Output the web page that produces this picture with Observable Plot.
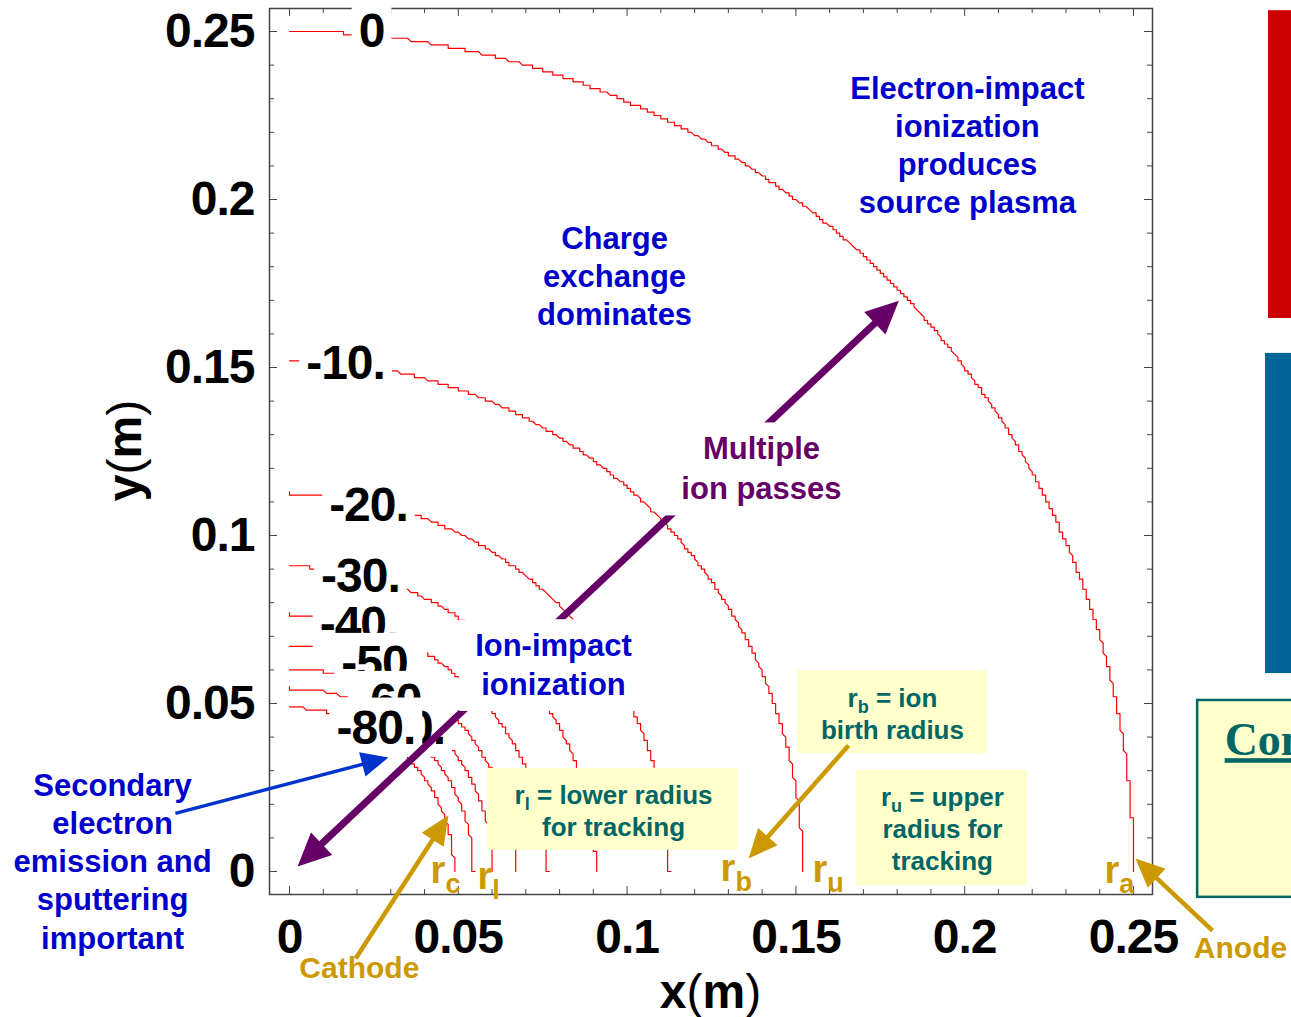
<!DOCTYPE html>
<html>
<head>
<meta charset="utf-8">
<script src="https://cdn.jsdelivr.net/npm/d3@7"></script>
<script src="https://cdn.jsdelivr.net/npm/@observablehq/plot@0.6"></script>
<style>
  html, body { margin: 0; padding: 0; background: #fff; }
  #chart svg { display: block; }
  g[aria-description="clabel"] text,
  g[aria-label="x-axis tick label"] text,
  g[aria-label="y-axis tick label"] text { letter-spacing: -1px; }
</style>
</head>
<body>
<div id="chart"></div>
<script>
// ---------------- data ----------------
// axis ticks (metres)
const axisTickValues = [0, 0.05, 0.1, 0.15, 0.2, 0.25];
const majorTicks = [0, 0.05, 0.1, 0.15, 0.2, 0.25];
const minorTicks = [0.01, 0.02, 0.03, 0.04, 0.06, 0.07, 0.08, 0.09, 0.11, 0.12, 0.13, 0.14,
                    0.16, 0.17, 0.18, 0.19, 0.21, 0.22, 0.23, 0.24];
const xAxisTitle = "x(m)";
const yAxisTitle = "y(m)";
const axisTitleX = [0.1247, -0.0486];
const axisTitleY = [-0.0360, 0.1253];

// potential contours (V) and their radii (m)
const contourLevels = [0, -10, -20, -30, -40, -50, -60, -70, -80];
const contourRadii  = [0.250, 0.152, 0.1125, 0.0907, 0.0765, 0.0670, 0.0603, 0.0545, 0.0487];
const contourLabelText = ["0", "-10.", "-20.", "-30.", "-40.", "-50.", "-60.", "-70.", "-80."];
const contourLabelX = [0.0243, 0.0166, 0.0234, 0.0210, 0.0206, 0.0270, 0.0311, 0.0344, 0.0256];
const contourLabelY = [0.2500, 0.1512, 0.1089, 0.0878, 0.0736, 0.0619, 0.0506, 0.0426, 0.0426];

// blue annotations
const blueNoteText = ["Electron-impact\nionization\nproduces\nsource plasma",
                      "Charge\nexchange\ndominates",
                      "Secondary\nelectron\nemission and\nsputtering\nimportant"];
const blueNoteX = [0.2008, 0.0963, -0.0524];
const blueNoteY = [0.2166, 0.1775, 0.0034];
const ionNoteText = "Ion-impact\nionization";
const ionNoteX = 0.0782, ionNoteY = 0.0620;
const passNoteText = "Multiple\nion passes";
const passNoteX = 0.1398, passNoteY = 0.1205;

// yellow definition boxes
const defText = ["r_l = lower radius\nfor tracking", "r_b = ion\nbirth radius", "r_u = upper\nradius for\ntracking"];
const defTextX = [0.0960, 0.1786, 0.1934];
const defTextY = [0.0183, 0.0473, 0.0129];
const defBoxX1 = [0.0587, 0.1505, 0.1680];
const defBoxX2 = [0.1330, 0.2068, 0.2186];
const defBoxY1 = [0.0063, 0.0351, -0.0042];
const defBoxY2 = [0.0307, 0.0598, 0.0301];

// gold radius markers
const radiusLabel = ["r_c", "r_l", "r_b", "r_u", "r_a"];
const radiusLabelX = [0.0418, 0.0557, 0.1277, 0.1549, 0.2414];
const radiusLabelY = [0.0003, -0.0015, 0.0009, 0.0006, 0.0003];
const electrodeText = ["Cathode", "Anode"];
const electrodeX = [0.0207, 0.2817];
const electrodeY = [-0.0289, -0.0229];

// arrows: tail (x1,y1) -> tip (x2,y2)
const goldArrowX1 = [0.0196, 0.1656, 0.2734];
const goldArrowY1 = [-0.0259, 0.0375, -0.0176];
const goldArrowX2 = [0.0471, 0.1360, 0.2506];
const goldArrowY2 = [0.0167, 0.0039, 0.0039];
const blueArrow = {x1: -0.0338, y1: 0.0173, x2: 0.0293, y2: 0.0339};
const passArrowX = [0.0024, 0.1805];   // double-headed: both ends are tips
const passArrowY = [0.0015, 0.1699];

// neighbouring slide elements at the right edge
const sideRectX1 = [0.2900, 0.2891];
const sideRectX2 = [0.3000, 0.3000];
const sideRectY1 = [0.1646, 0.0589];
const sideRectY2 = [0.2562, 0.1542];
const sideRectFill = ["#CC0000", "#006699"];
const sideBox = {x1: 0.2690, x2: 0.3100, y1: -0.0077, y2: 0.0509};
const sideBoxText = "Con", sideBoxTextX = 0.2770, sideBoxTextY = 0.0390;

// ---------------- layout ----------------
const W = 1291, H = 1017;
const mL = 269, mR = 139, mT = 8, mB = 123;
const innerW = W - mL - mR, innerH = H - mT - mB;
const xDomain = [-0.00592, 0.25563], yDomain = [-0.00685, 0.25685];
const kx = innerW / (xDomain[1] - xDomain[0]);
const ky = innerH / (yDomain[1] - yDomain[0]);

const sans = "'Liberation Sans', Arial, Helvetica, sans-serif";
const RED = "#FF0000", BLUE = "#0000CC", ABLUE = "#0033CC", PURPLE = "#660066",
      GOLD = "#CC9900", TEAL = "#006666", YELLOW = "#FFFFCC", FRAME = "#444";

// contour arcs (quarter circles of the measured radii, rendered on the solver grid)
const GRID = 0.001;
const snap = v => Math.round(v / GRID) * GRID;
const arcs = contourRadii.flatMap((r, i) => {
  const n = Math.ceil(r * 4000), pts = [];
  for (let k = 0; k <= n; k++) {
    const a = (Math.PI / 2) * k / n;
    pts.push({level: contourLevels[i], x: snap(r * Math.cos(a)), y: snap(r * Math.sin(a))});
  }
  return pts;
});

const clabels = contourLabelText.map((t, i) => ({t, x: contourLabelX[i], y: contourLabelY[i]}));
const blueNotes = blueNoteText.map((t, i) => ({t, x: blueNoteX[i], y: blueNoteY[i]}));
const defs = defText.map((t, i) => ({t, x: defTextX[i], y: defTextY[i]}));
const defBoxes = defBoxX1.map((_, i) => ({x1: defBoxX1[i], x2: defBoxX2[i], y1: defBoxY1[i], y2: defBoxY2[i]}));
const rLabels = radiusLabel.map((t, i) => ({t, x: radiusLabelX[i], y: radiusLabelY[i]}));
const electrodes = electrodeText.map((t, i) => ({t, x: electrodeX[i], y: electrodeY[i]}));
const goldArrows = goldArrowX1.map((_, i) => ({x1: goldArrowX1[i], y1: goldArrowY1[i], x2: goldArrowX2[i], y2: goldArrowY2[i]}));
const passArrow = [{x1: passArrowX[0], y1: passArrowY[0], x2: passArrowX[1], y2: passArrowY[1]}];
const sideRects = sideRectX1.map((_, i) => ({x1: sideRectX1[i], x2: sideRectX2[i], y1: sideRectY1[i], y2: sideRectY2[i], fill: sideRectFill[i]}));
const axisTitles = [{t: xAxisTitle, x: axisTitleX[0], y: axisTitleY[0], rot: 0},
                    {t: yAxisTitle, x: axisTitleX[1], y: axisTitleY[1], rot: -90}];

// arrowheads: filled triangles pointing along the arrow
const headSymbol = (L, Wd) => ({draw(ctx) { ctx.moveTo(0, 0); ctx.lineTo(Wd / 2, L); ctx.lineTo(-Wd / 2, L); ctx.closePath(); }});
const angle = (a) => Math.atan2(kx * (a.x2 - a.x1), ky * (a.y2 - a.y1)) * 180 / Math.PI;
const tipsOf = (arr) => arr.map(a => ({x: a.x2, y: a.y2, rot: angle(a)}));
const passTips = [
  {x: passArrowX[1], y: passArrowY[1], rot: angle(passArrow[0])},
  {x: passArrowX[0], y: passArrowY[0], rot: angle({x1: passArrowX[1], y1: passArrowY[1], x2: passArrowX[0], y2: passArrowY[0]})}
];

const chart = Plot.plot({
  width: W, height: H,
  marginLeft: mL, marginRight: mR, marginTop: mT, marginBottom: mB,
  x: {domain: xDomain},
  y: {domain: yDomain},
  style: {fontFamily: sans, background: "white", overflow: "visible"},
  marks: [
    // right-edge neighbour elements
    Plot.rect(sideRects, {x1: "x1", x2: "x2", y1: "y1", y2: "y2", fill: "fill"}),
    Plot.rect([sideBox], {x1: "x1", x2: "x2", y1: "y1", y2: "y2", fill: YELLOW, stroke: TEAL, strokeWidth: 2.5}),
    Plot.text([sideBoxText], {x: () => sideBoxTextX, y: () => sideBoxTextY, text: d => d, textAnchor: "start",
      fontFamily: "'Liberation Serif', 'Times New Roman', serif", fontWeight: "bold", fontSize: 46, fill: TEAL, ariaDescription: "con"}),

    // frame and inward ticks
    Plot.frame({stroke: FRAME, strokeWidth: 1.5}),
    Plot.tickX(minorTicks, {x: d => d, stroke: FRAME, insetTop: innerH - 5}),
    Plot.tickX(majorTicks, {x: d => d, stroke: FRAME, insetTop: innerH - 8}),
    Plot.tickX(minorTicks, {x: d => d, stroke: FRAME, insetBottom: innerH - 5}),
    Plot.tickX(majorTicks, {x: d => d, stroke: FRAME, insetBottom: innerH - 8}),
    Plot.tickY(minorTicks, {y: d => d, stroke: FRAME, insetRight: innerW - 5}),
    Plot.tickY(majorTicks, {y: d => d, stroke: FRAME, insetRight: innerW - 8}),
    Plot.tickY(minorTicks, {y: d => d, stroke: FRAME, insetLeft: innerW - 5}),
    Plot.tickY(majorTicks, {y: d => d, stroke: FRAME, insetLeft: innerW - 8}),
    Plot.axisX({ticks: axisTickValues, tickSize: 0, tickPadding: 24, tickFormat: d => String(d),
      fontSize: 48, fontWeight: "bold", fontFamily: sans, label: null}),
    Plot.axisY({ticks: axisTickValues, tickSize: 0, tickPadding: 15, tickFormat: d => String(d),
      fontSize: 48, fontWeight: "bold", fontFamily: sans, label: null}),

    // potential contours
    Plot.line(arcs, {x: "x", y: "y", z: "level", stroke: RED, strokeWidth: 1.2}),
    Plot.text(clabels, {x: "x", y: "y", text: "t", fontSize: 48, fontWeight: "bold", fill: "black", ariaDescription: "clabel"}),

    // yellow definition boxes
    Plot.rect(defBoxes, {x1: "x1", x2: "x2", y1: "y1", y2: "y2", fill: YELLOW}),
    Plot.text(defs, {x: "x", y: "y", text: "t", fontSize: 26, fontWeight: "bold", fill: TEAL, lineHeight: 1.23, ariaDescription: "defnote"}),

    // multiple ion passes arrow (double headed)
    Plot.arrow(passArrow, {x1: "x1", y1: "y1", x2: "x2", y2: "y2", stroke: PURPLE, strokeWidth: 7,
      headLength: 0, insetStart: 26, insetEnd: 26, strokeLinecap: "butt"}),
    Plot.dot(passTips, {x: "x", y: "y", rotate: "rot", symbol: headSymbol(33, 31), fill: PURPLE, stroke: "none"}),

    // boxed notes sitting over the arrow
    Plot.text([ionNoteText], {x: () => ionNoteX, y: () => ionNoteY, text: d => d, fontSize: 31, fontWeight: "bold",
      fill: BLUE, lineHeight: 1.25, ariaDescription: "boxnote"}),
    Plot.text([passNoteText], {x: () => passNoteX, y: () => passNoteY, text: d => d, fontSize: 31, fontWeight: "bold",
      fill: PURPLE, lineHeight: 1.29, ariaDescription: "boxnote"}),

    // blue notes and arrow
    Plot.text(blueNotes, {x: "x", y: "y", text: "t", fontSize: 31, fontWeight: "bold", fill: BLUE, lineHeight: 1.23}),
    Plot.arrow([blueArrow], {x1: "x1", y1: "y1", x2: "x2", y2: "y2", stroke: ABLUE, strokeWidth: 3.5,
      headLength: 0, insetEnd: 20, strokeLinecap: "butt"}),
    Plot.dot(tipsOf([blueArrow]), {x: "x", y: "y", rotate: "rot", symbol: headSymbol(27, 25), fill: ABLUE, stroke: "none"}),

    // gold electrode / radius markers
    Plot.arrow(goldArrows, {x1: "x1", y1: "y1", x2: "x2", y2: "y2", stroke: GOLD, strokeWidth: 4.5,
      headLength: 0, insetEnd: 22, strokeLinecap: "butt"}),
    Plot.dot(tipsOf(goldArrows), {x: "x", y: "y", rotate: "rot", symbol: headSymbol(29, 26), fill: GOLD, stroke: "none"}),
    Plot.text(rLabels, {x: "x", y: "y", text: "t", textAnchor: "start", fontSize: 38, fontWeight: "bold", fill: GOLD, ariaDescription: "goldr"}),
    Plot.text(electrodes, {x: "x", y: "y", text: "t", fontSize: 30, fontWeight: "bold", fill: GOLD}),

    // axis titles
    Plot.text(axisTitles, {x: "x", y: "y", text: "t", rotate: "rot", fontSize: 48, fontWeight: "bold", fill: "black", ariaDescription: "axtitle"})
  ]
});

document.getElementById("chart").append(chart);

// ---------------- finishing touches on the rendered SVG ----------------
const NS = "http://www.w3.org/2000/svg";
const groupTexts = (name) => [...chart.querySelectorAll(`g[aria-description="${name}"] text`)];
function boxBehind(name, padX, padY) {
  groupTexts(name).forEach(t => {
    const b = t.getBBox();
    const r = document.createElementNS(NS, "rect");
    r.setAttribute("x", b.x - padX);
    r.setAttribute("y", b.y - padY);
    r.setAttribute("width", b.width + 2 * padX);
    r.setAttribute("height", b.height + 2 * padY);
    r.setAttribute("fill", "white");
    r.setAttribute("stroke", "none");
    const tr = t.getAttribute("transform");
    if (tr) r.setAttribute("transform", tr);
    t.parentNode.insertBefore(r, t);
  });
}
boxBehind("clabel", 7, 3);
boxBehind("boxnote", 16, 9);

function subscripts(name, subSize, shift) {
  groupTexts(name).forEach(t => {
    const spans = t.querySelectorAll("tspan");
    const targets = spans.length ? [...spans] : [t];
    targets.forEach(el => {
      const s = el.textContent;
      if (!s.includes("_")) return;
      el.textContent = "";
      s.split(/(_\w)/).forEach(part => {
        if (!part) return;
        const ts = document.createElementNS(NS, "tspan");
        if (part[0] === "_") {
          ts.textContent = part.slice(1);
          ts.setAttribute("font-size", subSize);
          ts.setAttribute("baseline-shift", -shift);
        } else ts.textContent = part;
        el.appendChild(ts);
      });
    });
  });
}
subscripts("defnote", 18, 6);
subscripts("goldr", 27, 10);

groupTexts("axtitle").forEach(t => {
  const s = t.textContent;
  t.textContent = "";
  s.split(/([()])/).forEach(part => {
    if (!part) return;
    const ts = document.createElementNS(NS, "tspan");
    ts.textContent = part;
    if (part === "(" || part === ")") ts.setAttribute("font-weight", "normal");
    t.appendChild(ts);
  });
});
groupTexts("con").forEach(t => t.setAttribute("text-decoration", "underline"));
</script>
</body>
</html>
